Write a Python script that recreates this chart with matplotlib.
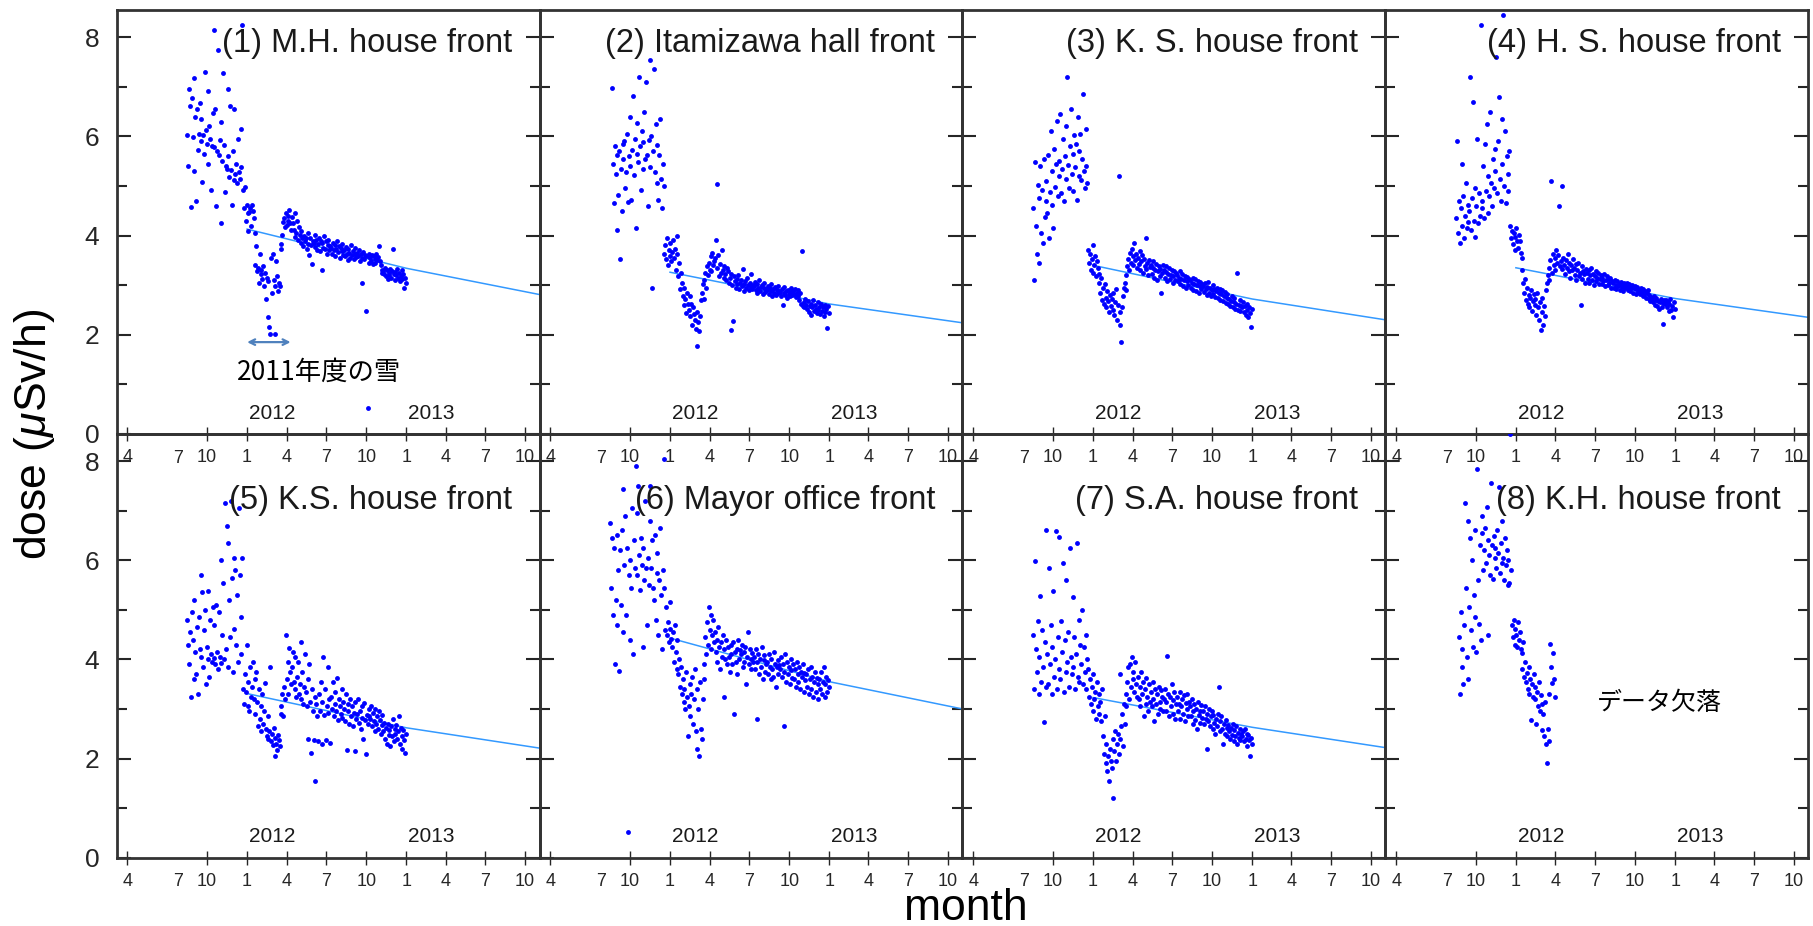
#!/usr/bin/python
# -*- encoding: UTF-8 -*-
'''Air dose rate at eight spots, Aug 2011 - Dec 2012

    List of functions:
        main
'''

# third-party modules
import numpy as np
import matplotlib
matplotlib.use('Agg')
import matplotlib.pyplot as plt
from matplotlib.ticker import MultipleLocator

nan = float('nan')

#==============================================================================
titles = [
    '(1) M.H. house front', '(2) Itamizawa hall front',
    '(3) K. S. house front', '(4) H. S. house front',
    '(5) K.S. house front', '(6) Mayor office front',
    '(7) S.A. house front', '(8) K.H. house front',
]

# one reading every 2 days from day0, one row = 30 days (uSv/h)
day0 = '2011-08-17'
day_step = 2

dose_1 = [
    6.02, 5.41, 6.95, 6.61, 4.58, 6.78, 5.98, 7.18, 5.30, 6.40, 4.70, 6.55, 5.72, 6.05, 6.68,
    5.90, 6.35, 5.08, 6.02, 5.65, 7.30, 6.12, 5.85, 6.92, 5.45, 6.20, 5.95, 4.92, 5.80, 6.48,
    8.15, 5.78, 6.55, 4.60, 5.70, 7.75, 5.62, 5.92, 4.25, 6.30, 5.50, 7.28, 5.83, 4.88, 5.40,
    5.35, 6.95, 5.60, 5.18, 6.62, 5.32, 4.62, 5.70, 5.12, 6.55, 5.25, 5.45, 5.05, 5.95, 5.28,
    5.15, 6.15, 5.38, 8.25, 4.92, 4.55, 4.97, 4.30, 4.62, 4.45, 4.10, 4.48, 4.56, 4.20, 4.62,
    4.50, 4.35, 4.05, 3.40, 3.78, 3.28, 3.35, 3.05, 3.62, 3.22, 3.30, 3.12, 3.38, 2.98, 3.25,
    2.72, 3.15, 2.35, 3.08, 2.15, 2.02, 3.55, 2.85, 3.62, 3.10, 2.98, 2.02, 3.48, 3.18, 2.88,
    3.05, 2.98, 3.82, 3.72, 4.02, 4.28, 4.35, 4.18, 4.45, 4.22, 4.40, 4.30, 4.52, 4.25, 4.12,
    4.38, 4.25, 4.12, 4.45, 3.98, 4.05, 4.30, 3.92, 4.18, 4.02, 3.85, 4.10, 3.95, 3.78, 4.00,
    3.88, 3.95, 3.72, 4.05, 3.82, 3.60, 3.95, 3.80, 3.42, 3.90, 3.85, 4.02, 3.76, 3.92, 3.70,
    3.82, 3.95, 3.68, 3.90, 3.30, 3.85, 3.75, 4.00, 3.72, 3.88, 3.62, 3.80, 3.92, 3.70, 3.78,
    3.75, 3.62, 3.85, 3.70, 3.80, 3.58, 3.72, 3.90, 3.66, 3.78, 3.55, 3.74, 3.68, 3.82, 3.60,
    3.70, 3.58, 3.76, 3.62, 3.50, 3.72, 3.65, 3.55, 3.80, 3.60, 3.68, 3.52, 3.74, 3.62, 3.56,
    3.64, 3.58, 3.70, 3.48, 3.62, 3.55, 3.05, 3.66, 3.52, 3.60, 2.47, 3.58, 0.53, 3.62, 3.45,
    3.55, 3.48, 3.60, 3.42, 3.58, 3.52, 3.45, 3.62, 3.50, 3.56, 3.78, 3.48, 3.40, 3.30, 3.25,
    3.28, 3.22, 3.35, 3.18, 3.30, 3.12, 3.25, 3.20, 3.32, 3.15, 3.28, 3.72, 3.22, 3.10, 3.26,
    3.20, 3.32, 3.15, 3.25, 3.08, 3.18, 3.30, 3.12, 3.22, 2.95, 3.15, 3.05,
]
dose_2 = [
    nan, nan, 6.98, 5.45, 4.65, 5.80, 5.25, 4.12, 5.62, 4.82, 5.70, 3.52, 5.35, 4.50, 5.85,
    5.55, 5.90, 4.95, 5.28, 6.05, 4.68, 5.60, 6.40, 5.40, 4.72, 5.72, 6.82, 5.22, 5.95, 4.15,
    5.65, 6.28, 5.48, 7.20, 5.80, 4.92, 6.10, 5.35, 5.88, 6.50, 5.55, 7.10, 5.62, 4.60, 5.92,
    7.55, 5.38, 6.00, 2.95, 5.70, 7.35, 5.28, 6.25, 5.05, 5.82, 4.72, 5.62, 6.35, 5.15, 4.55,
    5.45, 5.00, 3.62, 3.80, 3.52, 3.95, 3.40, 3.70, 3.58, 3.85, 3.48, 3.66, 3.92, 3.55, 3.72,
    3.30, 4.00, 3.62, 3.18, 3.45, 2.92, 3.25, 3.05, 2.78, 2.60, 2.95, 2.72, 2.44, 2.85, 2.62,
    2.50, 2.78, 2.38, 2.62, 2.20, 2.55, 2.42, 2.30, 2.12, 2.45, 1.78, 2.25, 2.08, 2.38, 2.70,
    2.85, 3.02, 2.72, 3.10, 3.25, 2.95, 3.38, 3.20, 3.45, 3.30, 3.58, 3.28, 3.65, 3.40, 3.48,
    3.55, 3.92, 5.03, 3.35, 3.60, 3.18, 3.42, 3.25, 3.70, 3.30, 3.15, 3.38, 3.22, 3.10, 3.35,
    3.28, 3.05, 3.15, 2.10, 3.22, 3.00, 2.27, 3.18, 3.08, 2.95, 3.12, 3.02, 3.20, 2.92, 3.05,
    3.10, 2.98, 3.32, 3.02, 2.88, 3.08, 2.95, 3.15, 3.00, 2.90, 3.05, 2.96, 3.22, 2.92, 3.00,
    2.98, 3.06, 2.90, 3.02, 2.85, 2.95, 3.10, 2.88, 2.96, 3.00, 2.82, 2.94, 3.04, 2.86, 2.92,
    2.90, 2.98, 2.82, 2.95, 2.88, 3.02, 2.78, 2.92, 2.85, 2.96, 2.80, 2.90, 2.98, 2.84, 2.88,
    2.86, 2.78, 2.92, 2.60, 2.84, 2.96, 2.80, 2.88, 2.74, 2.90, 2.82, 2.78, 2.94, 2.86, 2.80,
    2.88, 2.82, 2.92, 2.76, 2.85, 2.90, 2.78, 2.70, 2.84, 2.62, 3.68, 2.58, 2.66, 2.55, 2.72,
    2.60, 2.52, 2.68, 2.45, 2.58, 2.62, 2.40, 2.55, 2.70, 2.48, 2.60, 2.52, 2.44, 2.65, 2.50,
    2.56, 2.42, 2.62, 2.48, 2.55, 2.38, 2.60, 2.46, 2.52, 2.14, 2.58, 2.44,
]
dose_3 = [
    4.55, 3.10, 5.48, 4.20, 3.62, 5.02, 4.75, 3.45, 5.40, 4.05, 4.92, 3.85, 5.55, 4.38, 4.70,
    5.10, 4.45, 5.62, 3.95, 4.88, 6.10, 4.62, 5.30, 4.15, 5.75, 4.98, 5.45, 6.32, 4.80, 5.20,
    5.50, 6.45, 4.85, 5.35, 5.95, 4.70, 5.60, 6.20, 5.15, 7.20, 5.42, 4.95, 5.80, 6.55, 5.25,
    5.65, 4.90, 6.02, 5.38, 5.85, 4.72, 6.40, 5.20, 5.70, 6.05, 5.12, 5.55, 6.85, 5.30, 4.95,
    5.40, 6.15, 5.05, 3.70, 3.45, 3.62, 3.30, 3.52, 3.25, 3.80, 3.40, 3.58, 3.18, 3.48, 3.35,
    3.22, 3.05, 2.85, 3.15, 2.70, 2.95, 2.62, 3.02, 2.75, 2.55, 2.88, 2.68, 2.45, 2.80, 2.58,
    2.72, 2.50, 2.85, 2.40, 2.65, 2.92, 2.30, 2.60, 5.20, 2.45, 2.20, 1.85, 2.55, 2.78, 2.95,
    3.05, 3.20, 2.90, 3.38, 3.52, 3.30, 3.65, 3.45, 3.72, 3.58, 3.40, 3.85, 3.50, 3.62, 3.35,
    3.55, 3.42, 3.68, 3.30, 3.48, 3.60, 3.25, 3.52, 3.38, 3.95, 3.32, 3.45, 3.20, 3.50, 3.36,
    3.40, 3.22, 3.35, 3.48, 3.15, 3.30, 3.42, 3.10, 3.28, 3.38, 3.18, 3.32, 2.85, 3.25, 3.40,
    3.30, 3.15, 3.26, 3.38, 3.08, 3.22, 3.34, 3.12, 3.20, 3.30, 3.05, 3.18, 3.28, 3.10, 3.24,
    3.20, 3.08, 3.15, 3.28, 3.02, 3.12, 3.22, 2.98, 3.10, 3.18, 2.95, 3.08, 3.16, 3.00, 3.12,
    3.10, 2.95, 3.05, 3.15, 2.90, 3.02, 3.12, 2.88, 3.00, 3.08, 2.85, 2.98, 3.06, 2.92, 3.02,
    2.98, 2.86, 3.04, 2.92, 2.80, 2.96, 3.06, 2.84, 2.94, 2.78, 2.90, 3.00, 2.82, 2.92, 2.76,
    2.88, 2.95, 2.75, 2.85, 2.92, 2.70, 2.82, 2.90, 2.68, 2.78, 2.86, 2.64, 2.75, 2.82, 2.62,
    2.72, 2.58, 2.68, 2.78, 2.55, 2.65, 2.74, 2.52, 2.62, 3.25, 2.50, 2.60, 2.70, 2.48, 2.58,
    2.55, 2.65, 2.45, 2.58, 2.40, 2.62, 2.50, 2.35, 2.56, 2.44, 2.15, 2.52,
]
dose_4 = [
    4.35, 5.90, 4.05, 4.70, 3.85, 4.55, 5.45, 4.20, 4.80, 3.95, 4.40, 5.05, 4.15, 4.62, 4.28,
    4.50, 7.20, 4.12, 4.75, 6.70, 4.30, 4.95, 3.98, 4.60, 5.95, 4.25, 4.85, 4.40, 8.25, 4.55,
    4.70, 5.40, 4.35, 5.85, 4.90, 6.25, 4.45, 5.20, 4.80, 6.50, 5.05, 4.60, 5.55, 4.95, 5.75,
    5.30, 7.60, 4.85, 5.90, 6.80, 5.15, 4.70, 6.35, 5.45, 8.45, 5.00, 6.10, 4.65, 5.60, 5.25,
    4.90, 5.70, 4.20, 3.95, 4.10, 3.82, 4.05, 3.70, 3.98, 4.15, 3.88, 3.75, 4.02, 3.90, 3.65,
    3.55, 3.30, 3.05, 2.85, 3.12, 2.70, 2.95, 2.62, 2.80, 2.55, 2.75, 2.90, 2.48, 2.68, 2.82,
    2.60, 2.72, 2.40, 2.85, 2.55, 2.30, 2.65, 2.10, 2.45, 2.75, 2.20, 2.58, 2.38, 2.90, 3.05,
    3.20, 3.10, 3.35, 3.50, 5.10, 3.25, 3.62, 3.40, 3.55, 3.30, 3.70, 3.45, 3.60, 4.60, 3.38,
    3.48, 3.32, 5.00, 3.55, 3.40, 3.22, 3.50, 3.35, 3.62, 3.28, 3.45, 3.15, 3.40, 3.30, 3.52,
    3.35, 3.20, 3.42, 3.10, 3.30, 3.45, 3.18, 3.25, 2.60, 3.38, 3.12, 3.28, 3.22, 3.05, 3.32,
    3.25, 3.12, 3.30, 3.05, 3.20, 3.35, 3.10, 3.22, 3.00, 3.18, 3.28, 3.08, 3.15, 3.25, 3.02,
    3.12, 3.20, 3.02, 3.15, 3.08, 3.22, 2.98, 3.10, 3.18, 3.00, 3.12, 3.05, 3.15, 2.95, 3.08,
    3.05, 2.95, 3.10, 3.00, 2.92, 3.08, 2.98, 3.02, 2.90, 3.06, 2.96, 3.00, 2.88, 3.04, 2.94,
    2.98, 3.04, 2.90, 2.96, 3.02, 2.88, 2.95, 3.00, 2.85, 2.94, 2.98, 2.82, 2.92, 2.96, 2.86,
    2.90, 2.82, 2.95, 2.86, 2.78, 2.92, 2.80, 2.88, 2.74, 2.84, 2.90, 2.72, 2.80, 2.68, 2.76,
    2.72, 2.65, 2.78, 2.60, 2.70, 2.75, 2.58, 2.68, 2.52, 2.66, 2.72, 2.55, 2.64, 2.22, 2.70,
    2.62, 2.70, 2.55, 2.66, 2.48, 2.62, 2.72, 2.50, 2.58, 2.35, 2.65, 2.52,
]
dose_5 = [
    4.80, 4.30, 3.90, 4.55, 3.25, 4.95, 4.40, 3.60, 5.20, 4.15, 3.70, 4.65, 3.30, 4.85, 4.20,
    5.70, 4.05, 5.35, 3.85, 4.60, 5.00, 3.50, 4.25, 5.38, 4.00, 3.65, 4.80, 4.10, 3.95, 5.05,
    4.70, 4.02, 3.90, 5.10, 4.15, 3.80, 4.95, 4.05, 6.00, 3.92, 4.50, 5.55, 4.00, 7.15, 4.20,
    6.70, 3.85, 6.35, 5.20, 4.45, 7.20, 5.65, 3.75, 6.05, 4.62, 5.80, 4.30, 5.30, 3.95, 7.05,
    5.70, 4.10, 4.85, 6.05, 3.40, 3.10, 3.70, 3.35, 4.30, 3.05, 3.55, 2.95, 3.85, 3.25, 3.45,
    3.95, 3.20, 3.60, 2.90, 3.75, 3.15, 2.65, 3.40, 2.80, 3.05, 2.55, 3.30, 2.70, 2.95, 3.52,
    2.60, 2.45, 2.85, 2.40, 2.55, 3.85, 2.35, 2.50, 2.28, 2.62, 2.05, 2.42, 2.30, 2.18, 2.48,
    2.38, 2.25, 2.90, 3.05, 3.30, 2.85, 3.45, 3.20, 4.50, 3.60, 3.95, 3.30, 4.22, 3.75, 3.50,
    3.85, 4.15, 3.55, 3.40, 4.05, 3.25, 3.65, 3.95, 3.30, 3.50, 4.35, 3.20, 3.75, 3.10, 3.45,
    4.10, 3.35, 3.05, 3.60, 2.40, 3.90, 3.15, 2.12, 3.40, 2.95, 2.38, 3.25, 1.55, 3.10, 2.85,
    2.35, 3.30, 2.95, 3.55, 2.30, 3.15, 4.05, 2.88, 3.40, 2.38, 3.05, 3.85, 2.92, 3.20, 2.32,
    3.25, 3.00, 3.55, 2.85, 3.10, 3.35, 2.95, 3.62, 2.78, 3.20, 3.05, 2.90, 3.40, 2.82, 3.15,
    3.00, 2.75, 3.30, 2.18, 2.95, 3.10, 2.70, 3.20, 2.85, 3.05, 2.65, 2.92, 2.15, 3.15, 2.80,
    2.90, 3.20, 2.72, 2.95, 2.60, 3.05, 2.82, 2.40, 3.12, 2.78, 2.10, 2.88, 2.70, 3.00, 2.85,
    2.80, 3.05, 2.65, 2.92, 2.75, 2.55, 3.00, 2.70, 2.85, 2.60, 2.95, 2.78, 2.50, 2.88, 2.68,
    2.55, 2.72, 2.40, 2.62, 2.30, 2.70, 2.48, 2.58, 2.25, 2.65, 2.45, 2.80, 2.35, 2.60, 2.50,
    2.68, 2.40, 2.55, 2.85, 2.30, 2.62, 2.45, 2.20, 2.58, 2.38, 2.12, 2.50,
]
dose_6 = [
    6.76, 5.45, 6.45, 4.90, 6.25, 3.90, 5.20, 6.50, 4.70, 5.80, 3.77, 6.20, 5.10, 6.60, 4.55,
    7.43, 5.90, 6.90, 4.90, 6.25, 0.52, 5.70, 4.40, 6.00, 5.45, 7.05, 4.10, 6.40, 5.85, 7.90,
    6.95, 5.70, 7.50, 6.10, 5.40, 6.45, 5.90, 4.25, 6.25, 5.60, 7.20, 5.85, 4.70, 6.05, 5.50,
    7.50, 6.80, 5.85, 6.40, 5.45, 5.20, 6.50, 4.80, 5.75, 6.15, 4.50, 5.60, 6.65, 5.30, 4.20,
    5.80, 5.45, 8.05, 4.60, 5.05, 4.50, 4.75, 4.35, 4.62, 5.15, 4.42, 4.25, 4.55, 3.95, 4.70,
    4.15, 3.80, 4.40, 3.70, 4.00, 3.45, 3.85, 3.30, 3.60, 3.15, 3.40, 3.00, 3.75, 3.25, 2.45,
    3.05, 3.50, 2.85, 3.30, 3.65, 2.70, 3.20, 3.80, 2.55, 3.40, 2.20, 3.00, 2.05, 3.55, 2.60,
    2.40, 3.20, 3.90, 3.60, 4.45, 4.10, 4.75, 4.30, 5.05, 4.60, 4.90, 4.20, 4.50, 4.80, 4.35,
    4.55, 4.15, 4.40, 3.95, 4.65, 4.25, 3.80, 4.35, 4.05, 4.50, 3.25, 4.20, 4.00, 4.40, 3.90,
    4.25, 4.05, 3.75, 4.30, 4.10, 3.90, 4.35, 2.90, 4.15, 3.95, 4.20, 3.70, 4.40, 4.00, 4.18,
    4.10, 4.30, 3.85, 4.15, 3.95, 4.25, 3.50, 4.05, 4.55, 3.90, 4.20, 4.00, 3.80, 4.12, 3.95,
    4.05, 3.80, 4.20, 2.80, 3.95, 4.10, 3.70, 4.00, 3.85, 4.25, 3.60, 3.98, 4.08, 3.75, 3.90,
    3.95, 3.70, 4.10, 3.85, 3.60, 4.00, 3.80, 3.65, 4.15, 3.90, 3.45, 3.85, 3.98, 3.70, 3.88,
    3.80, 4.05, 3.65, 3.90, 2.65, 3.75, 4.10, 3.55, 3.95, 3.70, 3.85, 3.50, 4.00, 3.78, 3.62,
    3.90, 3.60, 3.80, 3.45, 3.95, 3.70, 3.55, 3.85, 3.40, 3.75, 3.65, 3.90, 3.35, 3.72, 3.58,
    3.70, 3.45, 3.80, 3.30, 3.60, 3.85, 3.40, 3.65, 3.25, 3.55, 3.75, 3.35, 3.62, 3.50, 3.20,
    3.60, 3.40, 3.75, 3.30, 3.55, 3.85, 3.25, 3.50, 3.65, 3.35, 3.58, 3.45,
]
dose_7 = [
    4.50, 3.40, 5.99, 4.20, 3.75, 4.77, 3.30, 4.05, 5.28, 3.55, 4.60, 3.85, 2.73, 4.35, 3.45,
    6.60, 4.10, 3.50, 5.85, 3.90, 4.70, 3.30, 4.25, 5.38, 3.65, 4.00, 6.58, 3.40, 4.45, 3.80,
    6.46, 3.60, 4.77, 4.15, 5.95, 3.35, 4.40, 3.75, 5.60, 3.95, 4.55, 3.45, 6.25, 4.05, 3.70,
    5.25, 3.85, 4.45, 3.40, 4.10, 6.35, 3.65, 4.80, 3.55, 4.30, 3.90, 5.00, 3.50, 4.25, 3.75,
    4.50, 3.40, 4.00, 3.80, 3.25, 3.60, 3.10, 3.45, 2.95, 3.70, 3.20, 3.35, 2.80, 3.55, 3.05,
    3.30, 2.90, 3.15, 2.76, 3.40, 2.45, 2.10, 2.85, 1.90, 2.30, 1.75, 2.05, 1.55, 2.20, 1.95,
    1.80, 2.40, 1.21, 2.15, 2.55, 1.95, 2.30, 2.50, 2.10, 3.70, 2.40, 2.65, 2.90, 2.25, 3.10,
    2.70, 3.30, 3.05, 3.55, 3.85, 3.20, 3.90, 3.45, 4.05, 3.60, 3.75, 3.35, 3.95, 3.50, 3.25,
    3.65, 3.20, 3.45, 3.05, 3.75, 3.30, 3.55, 2.85, 3.40, 3.10, 3.62, 3.25, 2.95, 3.50, 3.15,
    3.35, 3.05, 3.55, 3.20, 2.75, 3.40, 3.10, 3.30, 2.90, 3.45, 3.15, 3.00, 3.38, 3.25, 2.95,
    3.20, 3.40, 2.95, 3.15, 4.07, 3.30, 2.85, 3.25, 3.05, 3.50, 2.90, 3.18, 3.35, 2.80, 3.10,
    3.25, 2.95, 3.10, 3.35, 2.80, 3.05, 3.20, 2.90, 3.28, 2.75, 3.12, 3.00, 3.30, 2.85, 3.15,
    3.05, 2.85, 3.20, 2.70, 2.95, 3.10, 2.78, 3.00, 2.60, 3.15, 2.88, 2.95, 2.72, 3.08, 2.82,
    2.95, 2.70, 3.05, 2.80, 2.20, 2.90, 2.75, 3.00, 2.65, 2.85, 2.95, 2.60, 2.88, 2.72, 2.50,
    2.80, 2.65, 2.90, 3.45, 2.55, 2.75, 2.85, 2.60, 2.30, 2.70, 2.50, 2.78, 2.62, 2.45, 2.68,
    2.55, 2.40, 2.62, 2.48, 2.70, 2.35, 2.58, 2.45, 2.65, 2.30, 2.52, 2.42, 2.60, 2.38, 2.50,
    2.45, 2.55, 2.35, 2.60, 2.40, 2.50, 2.25, 2.48, 2.38, 2.05, 2.42, 2.30,
]
dose_8 = [
    nan, nan, nan, 4.46, 3.30, 4.95, 3.85, 4.20, 3.50, 4.70, 7.15, 5.45, 4.05, 6.80, 3.60,
    5.05, 6.45, 4.60, 6.00, 4.25, 5.30, 4.85, 6.60, 4.15, 7.85, 5.60, 4.72, 6.30, 4.40, 6.90,
    6.55, 5.80, 6.20, 6.65, 5.95, 7.08, 6.40, 4.50, 6.10, 5.70, 7.55, 6.30, 5.62, 6.48, 6.05,
    6.25, 5.85, 6.60, 6.15, 7.48, 5.75, 6.35, 5.95, 6.80, 6.05, 5.60, 6.45, 5.90, 6.20, 5.50,
    6.00, 5.55, 8.54, 5.80, 4.70, 4.45, 4.80, 4.30, 4.62, 4.50, 4.25, 4.75, 4.40, 4.55, 4.20,
    4.12, 3.80, 4.35, 3.65, 3.95, 3.55, 3.72, 3.40, 3.85, 3.30, 3.60, 2.77, 3.50, 3.25, 3.70,
    3.45, 3.20, 2.70, 3.35, 3.05, 3.55, 2.95, 3.28, 2.58, 3.10, 2.90, 2.45, 3.15, 2.30, 1.90,
    2.60, 3.30, 2.35, 4.32, 3.85, 3.52, 4.12, 3.60, 3.25,
]
doses = [dose_1, dose_2, dose_3, dose_4, dose_5, dose_6, dose_7, dose_8]

# decay fit (none for (8), data missing)
fit_days = ['2012-01-01', '2013-01-01', '2013-11-03']
fit_1 = [4.13, 3.34, 2.81]
fit_2 = [3.26, 2.62, 2.24]
fit_3 = [3.40, 2.72, 2.30]
fit_4 = [3.35, 2.73, 2.35]
fit_5 = [3.31, 2.62, 2.21]
fit_6 = [4.43, 3.55, 3.00]
fit_7 = [3.23, 2.63, 2.22]
fits = [fit_1, fit_2, fit_3, fit_4, fit_5, fit_6, fit_7, None]

tick_days = ['2011-04-01', '2011-10-01', '2012-01-01', '2012-04-01',
             '2012-07-01', '2012-10-01', '2013-01-01', '2013-04-01',
             '2013-07-01', '2013-10-01']
tick_labels = ['4', '10', '1', '4', '7', '10', '1', '4', '7', '10']
year_days = ['2012-02-28', '2013-02-28']
year_labels = ['2012', '2013']

snow_span = ['2012-01-01', '2012-04-10']
snow_text = '2011年度の雪'
missing_text = 'データ欠落'

#==============================================================================
def main(*args):
    plt.rcParams['font.family'] = ['Liberation Sans', 'DejaVu Sans']
    plt.rcParams['mathtext.fontset'] = 'custom'
    plt.rcParams['mathtext.rm'] = 'Liberation Sans'
    plt.rcParams['mathtext.it'] = 'Liberation Sans:italic'
    cjk = ['Noto Sans CJK JP', 'DejaVu Sans']

    fig, axes = plt.subplots(
        2, 4, figsize=(18.13, 9.26), dpi=100, sharex=True, sharey=True,
        gridspec_kw=dict(wspace=0, hspace=0)
    )
    fig.subplots_adjust(left=0.0643, right=0.9974, top=0.9892, bottom=0.0738)

    t0 = np.datetime64(day0)
    ticks = np.array(tick_days, dtype='datetime64[D]')
    for i, ax in enumerate(axes.flat):
        row = i // 4
        vals = np.array(doses[i], dtype=float)
        days = t0 + np.arange(len(vals)) * day_step
        ax.patch.set_visible(False)
        if fits[i] is not None:
            ax.plot(np.array(fit_days, dtype='datetime64[D]'), fits[i],
                    color='#3399ff', lw=1.1, zorder=2)
        ax.plot(days, vals, 'o', ms=3.5, mew=0, color='#0000ff', zorder=3)

        ax.set_xlim(np.datetime64('2011-03-07'), np.datetime64('2013-11-03'))
        ax.set_ylim(0, 8.55)
        ax.set_xticks(ticks)
        ax.set_xticklabels(tick_labels)
        ax.set_yticks([0, 2, 4, 6, 8])
        ax.yaxis.set_minor_locator(MultipleLocator(1))
        ax.tick_params(axis='x', which='major', direction='inout', length=9.5,
                       width=1.0, pad=6.5, labelsize=13, labelbottom=True,
                       colors='0.15')
        ax.tick_params(axis='x', which='minor', bottom=False, top=False)
        ax.tick_params(axis='y', which='major', direction='in', length=10,
                       width=1.5, left=True, right=True, labelsize=19,
                       pad=12.5, colors='0.15')
        ax.tick_params(axis='y', which='minor', direction='in', length=7,
                       width=1.5, left=True, right=True, colors='0.15')
        for sp in ax.spines.values():
            sp.set_linewidth(2.0)
            sp.set_color('0.2')
        # END for

        # month 7 of 2011 has a label but no tick
        ax.annotate('7', xy=(np.datetime64('2011-07-26'), 0),
                    xycoords=('data', 'axes fraction'), xytext=(0, -11.3),
                    textcoords='offset points', ha='center', va='top',
                    fontsize=13, color='0.15', annotation_clip=False)
        for d, lab in zip(year_days, year_labels):
            ax.text(np.datetime64(d), 0.42, lab, ha='center', va='center',
                    fontsize=15, color='0.1')
        # END for
        ax.text(0.935, [7.87, 7.21][row], titles[i],
                transform=ax.get_yaxis_transform(), ha='right', va='center',
                fontsize=23.5, color='0.1')
    # END for

    # snow period note on (1)
    ax = axes[0, 0]
    ax.annotate('', xy=(np.datetime64(snow_span[1]), 1.85),
                xytext=(np.datetime64(snow_span[0]), 1.85),
                arrowprops=dict(arrowstyle='<->', color='#4f81bd', lw=1.6,
                                shrinkA=0, shrinkB=0))
    ax.text(np.datetime64('2012-06-15'), 1.24, snow_text, family=cjk,
            fontsize=19, ha='center', va='center')
    axes[1, 3].text(0.649, 3.12, missing_text, family=cjk, fontsize=18,
                    transform=axes[1, 3].get_yaxis_transform(),
                    ha='center', va='center')

    fig.text(0.019, 0.531, r'dose ($\mu$Sv/h)', rotation=90, ha='center',
             va='center', fontsize=32)
    fig.text(0.5327, 0.006, 'month', ha='center', va='baseline', fontsize=32)

    fig.savefig('out.png', dpi=100)
    print('saved out.png')
# END main

#==============================================================================
if __name__ == '__main__': main()
